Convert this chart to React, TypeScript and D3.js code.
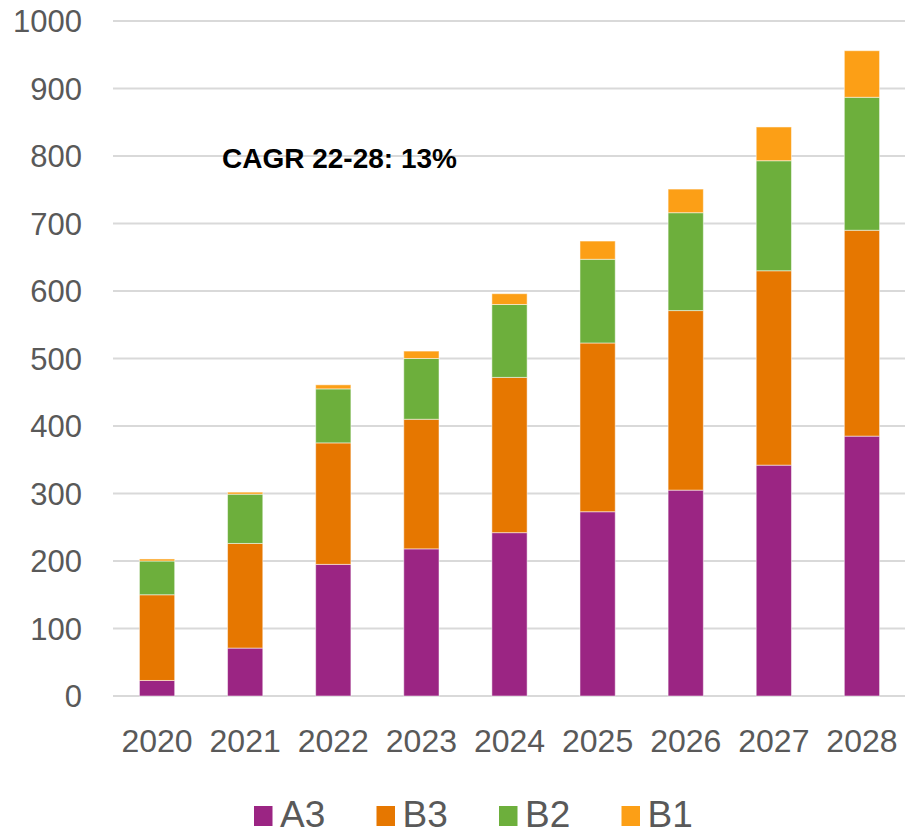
import React from "react";
import * as d3 from "d3";

const years = ["2020", "2021", "2022", "2023", "2024", "2025", "2026", "2027", "2028"];
const A3 = [23, 71, 195, 218, 242, 273, 305, 342, 385];
const B3 = [127, 155, 180, 192, 230, 250, 266, 288, 305];
const B2 = [50, 73, 80, 90, 108, 124, 145, 163, 197];
const B1 = [3, 3, 6, 11, 16, 27, 35, 50, 69];
const seriesNames = ["A3", "B3", "B2", "B1"];
const seriesColors = ["#9b2583", "#e67700", "#6daf3c", "#fc9f16"];
const yTicks = [0, 100, 200, 300, 400, 500, 600, 700, 800, 900, 1000];
const annotation = "CAGR 22-28: 13%";

const W = 905;
const H = 835;

export default function App() {
  const x = d3.scaleBand<string>().domain(years).range([113, 906]).paddingInner(0.6).paddingOuter(0.3);
  const y = d3.scaleLinear().domain([0, 1000]).range([696, 21]);
  const rows = years.map((yr, i) => ({ year: yr, A3: A3[i], B3: B3[i], B2: B2[i], B1: B1[i] }));
  const stacked = d3.stack<any>().keys(seriesNames)(rows);
  const font = "'Liberation Sans', Arial, sans-serif";

  return (
    <svg width={W} height={H} style={{ position: "absolute", left: 0, top: 0, background: "#fff" }}>
      {yTicks.map((t) => (
        <g key={t}>
          <line x1={113} x2={905} y1={y(t)} y2={y(t)} stroke="#d9d9d9" strokeWidth={2} />
          <text x={82} y={y(t) + 11} textAnchor="end" fontFamily={font} fontSize={31} fill="#595959">
            {t}
          </text>
        </g>
      ))}
      {stacked.map((s, si) => (
        <g key={s.key} fill={seriesColors[si]}>
          {s.map((d, i) => (
            <rect
              key={i}
              x={x(years[i])!}
              width={x.bandwidth()}
              y={y(d[1])}
              height={y(d[0]) - y(d[1])}
              stroke="#ffffff"
              strokeOpacity={0.5}
              strokeWidth={1}
            />
          ))}
        </g>
      ))}
      {years.map((yr) => (
        <text key={yr} x={x(yr)! + x.bandwidth() / 2} y={752} textAnchor="middle" fontFamily={font} fontSize={32} fill="#595959">
          {yr}
        </text>
      ))}
      <text x={222} y={168} fontFamily={font} fontSize={28} fontWeight="bold" fill="#000">
        {annotation}
      </text>
      {seriesNames.map((n, i) => (
        <g key={n} transform={`translate(${254 + i * 122.5},0)`}>
          <rect x={0} y={806} width={18.5} height={20} fill={seriesColors[i]} />
          <text x={26} y={827} fontFamily={font} fontSize={37} fill="#595959">
            {n}
          </text>
        </g>
      ))}
    </svg>
  );
}
